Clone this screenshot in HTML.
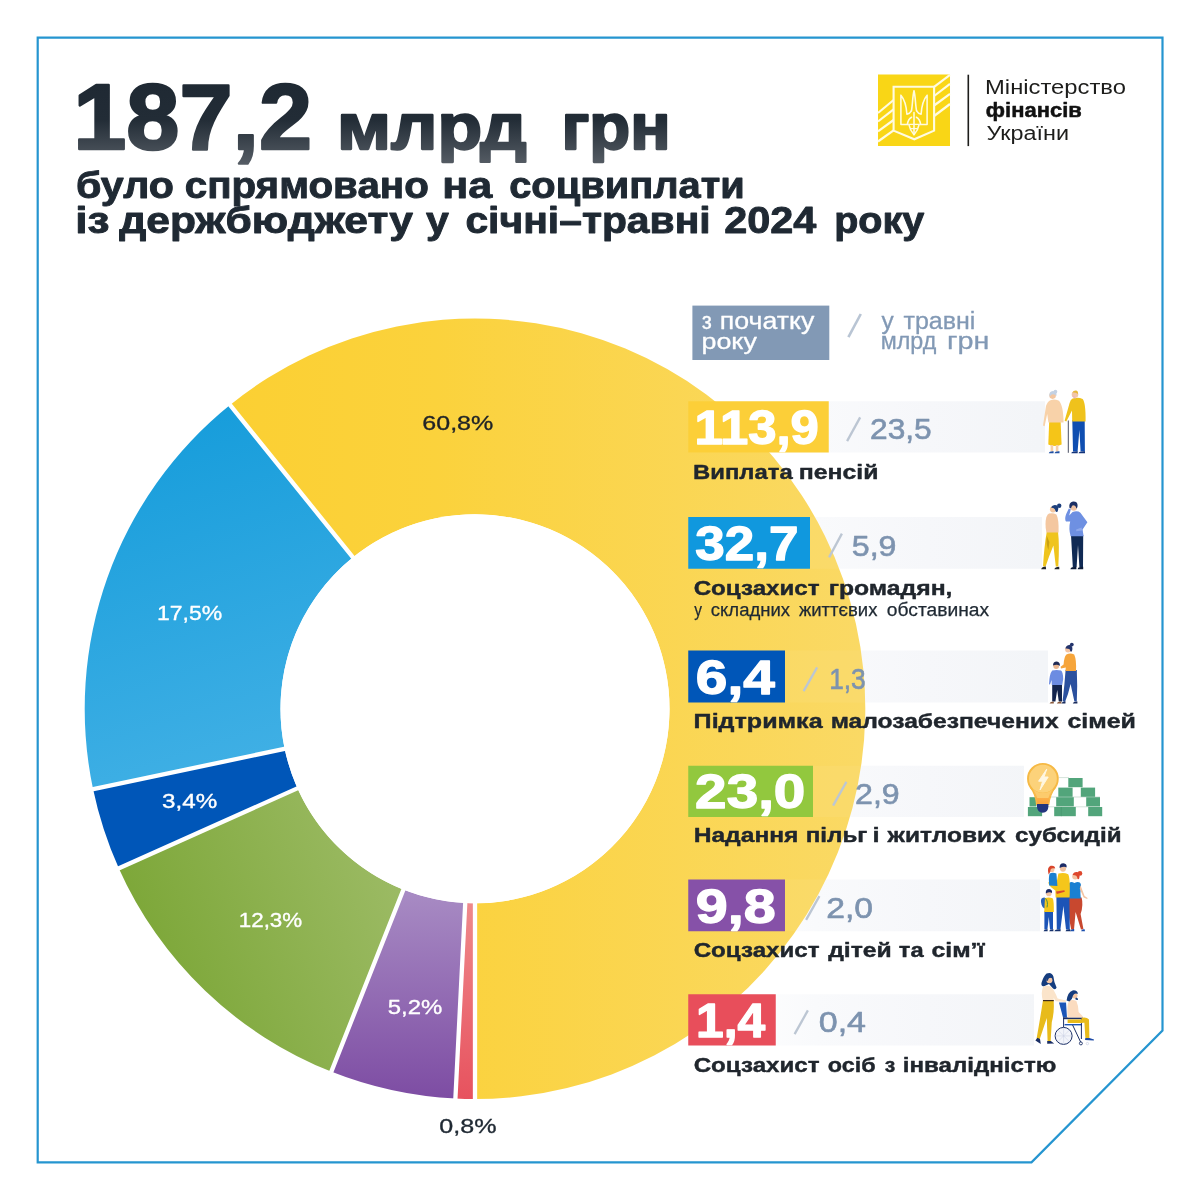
<!DOCTYPE html>
<html lang="uk"><head><meta charset="utf-8"><title>187,2 млрд грн</title>
<style>
html,body{margin:0;padding:0;background:#fff;}
body{width:1200px;height:1200px;overflow:hidden;}
svg{display:block;font-family:"Liberation Sans",sans-serif;}
</style></head><body>
<svg width="1200" height="1200" viewBox="0 0 1200 1200">
<defs>
<linearGradient id="gT" x1="0" y1="82" x2="0" y2="165" gradientUnits="userSpaceOnUse"><stop offset="0" stop-color="#1f2933"/><stop offset="0.45" stop-color="#222c36"/><stop offset="1" stop-color="#565d65"/></linearGradient>
<linearGradient id="gY" x1="84" y1="0" x2="866" y2="0" gradientUnits="userSpaceOnUse"><stop offset="0" stop-color="#fbce2c"/><stop offset="0.45" stop-color="#fbd23c"/><stop offset="1" stop-color="#fad965"/></linearGradient>
<linearGradient id="gLB" x1="180" y1="420" x2="300" y2="800" gradientUnits="userSpaceOnUse"><stop offset="0" stop-color="#179ddb"/><stop offset="1" stop-color="#45b2e6"/></linearGradient>
<linearGradient id="gG" x1="150" y1="1000" x2="400" y2="900" gradientUnits="userSpaceOnUse"><stop offset="0" stop-color="#7ba636"/><stop offset="1" stop-color="#9bba63"/></linearGradient>
<linearGradient id="gP" x1="0" y1="895" x2="0" y2="1100" gradientUnits="userSpaceOnUse"><stop offset="0" stop-color="#a78ac3"/><stop offset="1" stop-color="#7d4ca3"/></linearGradient>
<linearGradient id="gR" x1="0" y1="900" x2="0" y2="1100" gradientUnits="userSpaceOnUse"><stop offset="0" stop-color="#ef8a8c"/><stop offset="1" stop-color="#e7525e"/></linearGradient>
<linearGradient id="gBar" x1="720" y1="0" x2="1040" y2="0" gradientUnits="userSpaceOnUse"><stop offset="0" stop-color="#ffffff"/><stop offset="0.3" stop-color="#f9fafc"/><stop offset="0.65" stop-color="#f6f7fa"/><stop offset="1" stop-color="#f3f5f8"/></linearGradient>
</defs>
<rect width="1200" height="1200" fill="#ffffff"/>

<path d="M37.7 37.7 H1162.5 V1030.5 L1031.5 1162.3 H37.7 Z" fill="none" stroke="#2595d0" stroke-width="2.2"/>
<rect x="688.25" y="401.25" width="356.75" height="51.25" fill="url(#gBar)"/>
<rect x="688.25" y="517.00" width="353.75" height="51.75" fill="url(#gBar)"/>
<rect x="688.25" y="650.50" width="360.75" height="52.00" fill="url(#gBar)"/>
<rect x="688.25" y="765.75" width="337.75" height="51.25" fill="url(#gBar)"/>
<rect x="688.25" y="879.50" width="353.75" height="51.75" fill="url(#gBar)"/>
<rect x="688.25" y="994.25" width="347.75" height="51.25" fill="url(#gBar)"/>
<g>
<path d="M475.34 1099.10 A390.3 390.3 0 0 1 455.05 1098.59 L465.06 903.05 A194.5 194.5 0 0 0 475.17 903.30 Z" fill="url(#gR)"/>
<path d="M455.73 1098.62 A390.3 390.3 0 0 1 331.00 1071.57 L403.24 889.58 A194.5 194.5 0 0 0 465.40 903.06 Z" fill="url(#gP)"/>
<path d="M331.64 1071.82 A390.3 390.3 0 0 1 118.64 867.98 L297.41 788.13 A194.5 194.5 0 0 0 403.56 889.70 Z" fill="url(#gG)"/>
<path d="M118.92 868.61 A390.3 390.3 0 0 1 92.99 788.81 L284.63 748.67 A194.5 194.5 0 0 0 297.55 788.44 Z" fill="#0056b8"/>
<path d="M93.13 789.48 A390.3 390.3 0 0 1 230.28 404.75 L353.05 557.28 A194.5 194.5 0 0 0 284.70 749.01 Z" fill="url(#gLB)"/>
<path d="M229.75 405.18 A390.3 390.3 0 1 1 474.66 1099.10 L474.83 903.30 A194.5 194.5 0 1 0 352.78 557.50 Z" fill="url(#gY)"/>
</g>
<path d="M475.00 902.30 L475.00 1100.10 M465.28 902.06 L455.34 1099.61 M403.77 888.71 L330.95 1072.62 M298.39 787.87 L117.86 868.70 M285.64 748.63 L92.08 789.35 M353.54 558.17 L229.38 404.19 " stroke="#ffffff" stroke-width="4.3" fill="none"/>
<circle cx="475" cy="708.8" r="194.5" fill="#ffffff"/>
<text x="422.30" y="429.82" font-size="20.84" font-weight="normal" fill="#1f2327" stroke="#1f2327" stroke-width="0.35" stroke-linejoin="round" textLength="70.97" lengthAdjust="spacingAndGlyphs">60,8%</text>
<text x="157.04" y="619.83" font-size="20.84" font-weight="normal" fill="#ffffff" stroke="#ffffff" stroke-width="0.35" stroke-linejoin="round" textLength="65.17" lengthAdjust="spacingAndGlyphs">17,5%</text>
<text x="162.12" y="808.12" font-size="20.12" font-weight="normal" fill="#ffffff" stroke="#ffffff" stroke-width="0.35" stroke-linejoin="round" textLength="55.13" lengthAdjust="spacingAndGlyphs">3,4%</text>
<text x="238.78" y="927.12" font-size="20.41" font-weight="normal" fill="#ffffff" stroke="#ffffff" stroke-width="0.35" stroke-linejoin="round" textLength="63.41" lengthAdjust="spacingAndGlyphs">12,3%</text>
<text x="387.73" y="1013.83" font-size="20.84" font-weight="normal" fill="#ffffff" stroke="#ffffff" stroke-width="0.35" stroke-linejoin="round" textLength="54.51" lengthAdjust="spacingAndGlyphs">5,2%</text>
<text x="439.39" y="1133.12" font-size="20.84" font-weight="normal" fill="#1f2933" stroke="#1f2933" stroke-width="0.35" stroke-linejoin="round" textLength="57.18" lengthAdjust="spacingAndGlyphs">0,8%</text>
<clipPath id="cD"><circle cx="475" cy="708.8" r="390.3"/></clipPath>
<g clip-path="url(#cD)" opacity="0.05">
<rect x="688.25" y="401.25" width="353.75" height="51.25" fill="#ffffff"/>
<rect x="688.25" y="517.00" width="353.75" height="51.75" fill="#ffffff"/>
<rect x="688.25" y="650.50" width="353.75" height="52.00" fill="#ffffff"/>
<rect x="688.25" y="765.75" width="353.75" height="51.25" fill="#ffffff"/>
<rect x="688.25" y="879.50" width="353.75" height="51.75" fill="#ffffff"/>
<rect x="688.25" y="994.25" width="353.75" height="51.25" fill="#ffffff"/>
</g>
<text x="73.23" y="149.30" font-size="93.30" font-weight="bold" fill="url(#gT)" stroke="url(#gT)" stroke-width="2.40" stroke-linejoin="round" textLength="238.95" lengthAdjust="spacingAndGlyphs">187,2</text>
<text x="336.99" y="149.25" font-size="65.32" font-weight="bold" fill="url(#gT)" stroke="url(#gT)" stroke-width="2.30" stroke-linejoin="round" textLength="189.58" lengthAdjust="spacingAndGlyphs">млрд</text>
<text x="561.47" y="149.25" font-size="65.32" font-weight="bold" fill="url(#gT)" stroke="url(#gT)" stroke-width="2.30" stroke-linejoin="round" textLength="109.21" lengthAdjust="spacingAndGlyphs">грн</text>
<text x="75.91" y="197.85" font-size="36.33" font-weight="bold" fill="#1f2933" stroke="#1f2933" stroke-width="0.90" stroke-linejoin="round" textLength="97.98" lengthAdjust="spacingAndGlyphs">було</text>
<text x="184.69" y="197.85" font-size="36.33" font-weight="bold" fill="#1f2933" stroke="#1f2933" stroke-width="0.90" stroke-linejoin="round" textLength="244.18" lengthAdjust="spacingAndGlyphs">спрямовано</text>
<text x="442.26" y="197.85" font-size="36.33" font-weight="bold" fill="#1f2933" stroke="#1f2933" stroke-width="0.90" stroke-linejoin="round" textLength="50.02" lengthAdjust="spacingAndGlyphs">на</text>
<text x="509.20" y="197.85" font-size="36.33" font-weight="bold" fill="#1f2933" stroke="#1f2933" stroke-width="0.90" stroke-linejoin="round" textLength="235.55" lengthAdjust="spacingAndGlyphs">соцвиплати</text>
<text x="75.18" y="232.85" font-size="36.33" font-weight="bold" fill="#1f2933" stroke="#1f2933" stroke-width="0.90" stroke-linejoin="round" textLength="34.38" lengthAdjust="spacingAndGlyphs">із</text>
<text x="119.20" y="232.85" font-size="36.33" font-weight="bold" fill="#1f2933" stroke="#1f2933" stroke-width="0.90" stroke-linejoin="round" textLength="293.83" lengthAdjust="spacingAndGlyphs">держбюджету</text>
<text x="425.95" y="232.85" font-size="36.33" font-weight="bold" fill="#1f2933" stroke="#1f2933" stroke-width="0.90" stroke-linejoin="round" textLength="22.84" lengthAdjust="spacingAndGlyphs">у</text>
<text x="465.42" y="232.85" font-size="36.33" font-weight="bold" fill="#1f2933" stroke="#1f2933" stroke-width="0.90" stroke-linejoin="round" textLength="245.29" lengthAdjust="spacingAndGlyphs">січні–травні</text>
<text x="724.16" y="232.85" font-size="36.33" font-weight="bold" fill="#1f2933" stroke="#1f2933" stroke-width="0.90" stroke-linejoin="round" textLength="92.13" lengthAdjust="spacingAndGlyphs">2024</text>
<text x="834.23" y="232.85" font-size="36.33" font-weight="bold" fill="#1f2933" stroke="#1f2933" stroke-width="0.90" stroke-linejoin="round" textLength="90.07" lengthAdjust="spacingAndGlyphs">року</text>
<g id="logo">
<rect x="878" y="74.5" width="72" height="71.5" fill="#f9d616"/>
<g stroke="#fffbe0" stroke-width="2.2" fill="none" stroke-linecap="butt">
<path d="M878 113.0 L893.6 100.0"/>
<path d="M878 121.5 L893.6 109.3"/>
<path d="M878 131.3 L893.6 120.0"/>
<path d="M878 141.5 L893.6 130.3"/>
<path d="M934.1 86.8 L950 74.8"/>
<path d="M934.1 96.0 L950 83.8"/>
<path d="M934.1 105.5 L950 93.9"/>
<path d="M934.1 116.0 L950 104.0"/>
<path d="M893.6 86.8 H934.1 V130.6 L914.3 139.3 L893.6 130.6 Z" stroke-width="2.1" fill="#f9d616"/>
</g>
<g stroke="#fffbe0" stroke-width="1.55" fill="none" stroke-linejoin="round" stroke-linecap="round">
<path d="M900.9 95.2 V124.4 H907.4 M900.9 95.2 C904.6 99.5 906.4 106 906.9 114.2 C908.6 113.8 910.4 112.6 911.4 110.8"/>
<path d="M927.1 95.2 V124.4 H920.6 M927.1 95.2 C923.4 99.5 921.6 106 921.1 114.2 C919.4 113.8 917.6 112.6 916.6 110.8"/>
<path d="M914 90.8 C912.4 97 912.6 106 911.4 110.8 M914 90.8 C915.6 97 915.4 106 916.6 110.8 M914 112.5 V134.4"/>
<path d="M907.4 124.4 C907.8 121 909.4 118.4 911.6 117.2 M920.6 124.4 C920.2 121 918.6 118.4 916.4 117.2"/>
<path d="M908.8 124.4 C909.8 129 911.8 132.4 914 134.8 C916.2 132.4 918.2 129 919.2 124.4"/>
<path d="M909.6 124.4 H918.4 M911 128.6 H917" stroke-width="1.2"/>
</g>
<rect x="967.5" y="74.7" width="1.6" height="71.4" fill="#1d1d1b"/>
<text x="985.04" y="93.80" font-size="19.77" font-weight="normal" fill="#1d1d1b" textLength="140.92" lengthAdjust="spacingAndGlyphs">Міністерство</text>
<text x="985.86" y="116.55" font-size="20.71" font-weight="bold" fill="#111111" stroke="#111111" stroke-width="0.50" stroke-linejoin="round" textLength="95.89" lengthAdjust="spacingAndGlyphs">фінансів</text>
<text x="986.53" y="140.00" font-size="19.77" font-weight="normal" fill="#1d1d1b" textLength="82.54" lengthAdjust="spacingAndGlyphs">України</text>
</g>
<rect x="692.4" y="305.6" width="136.9" height="54.4" fill="#8299b5"/>
<text x="701.81" y="329.25" font-size="23.34" font-weight="normal" fill="#ffffff" stroke="#ffffff" stroke-width="0.30" stroke-linejoin="round" textLength="10.10" lengthAdjust="spacingAndGlyphs">з</text>
<text x="719.73" y="329.25" font-size="23.34" font-weight="normal" fill="#ffffff" stroke="#ffffff" stroke-width="0.30" stroke-linejoin="round" textLength="94.62" lengthAdjust="spacingAndGlyphs">початку</text>
<text x="701.47" y="348.75" font-size="22.67" font-weight="normal" fill="#ffffff" stroke="#ffffff" stroke-width="0.30" stroke-linejoin="round" textLength="55.38" lengthAdjust="spacingAndGlyphs">року</text>
<path d="M848.4 337.2 L860.8 314" stroke="#b9c5d4" stroke-width="2.6" stroke-linecap="butt"/>
<text x="881.40" y="329.25" font-size="23.34" font-weight="normal" fill="#8299b5" stroke="#8299b5" stroke-width="0.30" stroke-linejoin="round" textLength="12.20" lengthAdjust="spacingAndGlyphs">у</text>
<text x="903.51" y="329.25" font-size="23.34" font-weight="normal" fill="#8299b5" stroke="#8299b5" stroke-width="0.30" stroke-linejoin="round" textLength="71.89" lengthAdjust="spacingAndGlyphs">травні</text>
<text x="880.70" y="348.75" font-size="23.34" font-weight="normal" fill="#8299b5" stroke="#8299b5" stroke-width="0.30" stroke-linejoin="round" textLength="55.53" lengthAdjust="spacingAndGlyphs">млрд</text>
<text x="947.11" y="348.75" font-size="23.34" font-weight="normal" fill="#8299b5" stroke="#8299b5" stroke-width="0.30" stroke-linejoin="round" textLength="42.29" lengthAdjust="spacingAndGlyphs">грн</text>
<rect x="688.25" y="401.25" width="140.50" height="51.25" fill="#fccf38"/>
<text x="694.47" y="443.85" font-size="47.93" font-weight="bold" fill="#ffffff" stroke="#ffffff" stroke-width="1.30" stroke-linejoin="round" textLength="124.39" lengthAdjust="spacingAndGlyphs">113,9</text>
<path d="M847.10 441.10 L860.15 417.40" stroke="#bcc6d3" stroke-width="2.3"/>
<text x="870.06" y="439.40" font-size="29.01" font-weight="normal" fill="#7d93af" stroke="#7d93af" stroke-width="0.60" stroke-linejoin="round" textLength="61.67" lengthAdjust="spacingAndGlyphs">23,5</text>
<text x="693.11" y="479.05" font-size="20.48" font-weight="bold" fill="#20262d" stroke="#20262d" stroke-width="0.40" stroke-linejoin="round" textLength="99.54" lengthAdjust="spacingAndGlyphs">Виплата</text>
<text x="798.65" y="479.05" font-size="20.48" font-weight="bold" fill="#20262d" stroke="#20262d" stroke-width="0.40" stroke-linejoin="round" textLength="79.84" lengthAdjust="spacingAndGlyphs">пенсій</text>
<rect x="688.25" y="517.00" width="121.75" height="51.75" fill="#1098de"/>
<text x="695.32" y="560.10" font-size="47.93" font-weight="bold" fill="#ffffff" stroke="#ffffff" stroke-width="1.30" stroke-linejoin="round" textLength="103.18" lengthAdjust="spacingAndGlyphs">32,7</text>
<path d="M829.10 557.35 L841.90 533.65" stroke="#bcc6d3" stroke-width="2.3"/>
<text x="851.79" y="555.65" font-size="29.01" font-weight="normal" fill="#7d93af" stroke="#7d93af" stroke-width="0.60" stroke-linejoin="round" textLength="44.71" lengthAdjust="spacingAndGlyphs">5,9</text>
<text x="693.65" y="595.30" font-size="20.48" font-weight="bold" fill="#20262d" stroke="#20262d" stroke-width="0.40" stroke-linejoin="round" textLength="125.96" lengthAdjust="spacingAndGlyphs">Соцзахист</text>
<text x="828.65" y="595.30" font-size="20.48" font-weight="bold" fill="#20262d" stroke="#20262d" stroke-width="0.40" stroke-linejoin="round" textLength="123.81" lengthAdjust="spacingAndGlyphs">громадян,</text>
<rect x="688.25" y="650.50" width="96.75" height="52.00" fill="#0056b8"/>
<text x="695.88" y="693.85" font-size="47.93" font-weight="bold" fill="#ffffff" stroke="#ffffff" stroke-width="1.30" stroke-linejoin="round" textLength="78.86" lengthAdjust="spacingAndGlyphs">6,4</text>
<path d="M803.60 691.10 L817.10 667.40" stroke="#bcc6d3" stroke-width="2.3"/>
<text x="829.15" y="689.40" font-size="29.01" font-weight="normal" fill="#7d93af" stroke="#7d93af" stroke-width="0.60" stroke-linejoin="round" textLength="36.61" lengthAdjust="spacingAndGlyphs">1,3</text>
<text x="693.63" y="728.10" font-size="20.48" font-weight="bold" fill="#20262d" stroke="#20262d" stroke-width="0.40" stroke-linejoin="round" textLength="129.01" lengthAdjust="spacingAndGlyphs">Підтримка</text>
<text x="830.66" y="728.10" font-size="20.48" font-weight="bold" fill="#20262d" stroke="#20262d" stroke-width="0.40" stroke-linejoin="round" textLength="227.98" lengthAdjust="spacingAndGlyphs">малозабезпечених</text>
<text x="1067.42" y="728.10" font-size="20.48" font-weight="bold" fill="#20262d" stroke="#20262d" stroke-width="0.40" stroke-linejoin="round" textLength="68.58" lengthAdjust="spacingAndGlyphs">сімей</text>
<rect x="688.25" y="765.75" width="124.75" height="51.25" fill="#92c83e"/>
<text x="695.13" y="808.35" font-size="47.93" font-weight="bold" fill="#ffffff" stroke="#ffffff" stroke-width="1.30" stroke-linejoin="round" textLength="110.27" lengthAdjust="spacingAndGlyphs">23,0</text>
<path d="M833.10 805.60 L846.40 781.90" stroke="#bcc6d3" stroke-width="2.3"/>
<text x="855.04" y="803.90" font-size="29.01" font-weight="normal" fill="#7d93af" stroke="#7d93af" stroke-width="0.60" stroke-linejoin="round" textLength="44.71" lengthAdjust="spacingAndGlyphs">2,9</text>
<text x="693.66" y="842.40" font-size="20.48" font-weight="bold" fill="#20262d" stroke="#20262d" stroke-width="0.40" stroke-linejoin="round" textLength="104.81" lengthAdjust="spacingAndGlyphs">Надання</text>
<text x="805.69" y="842.40" font-size="20.48" font-weight="bold" fill="#20262d" stroke="#20262d" stroke-width="0.40" stroke-linejoin="round" textLength="61.74" lengthAdjust="spacingAndGlyphs">пільг</text>
<text x="872.40" y="842.40" font-size="20.48" font-weight="bold" fill="#20262d" stroke="#20262d" stroke-width="0.40" stroke-linejoin="round" textLength="7.11" lengthAdjust="spacingAndGlyphs">і</text>
<text x="887.58" y="842.40" font-size="20.48" font-weight="bold" fill="#20262d" stroke="#20262d" stroke-width="0.40" stroke-linejoin="round" textLength="118.06" lengthAdjust="spacingAndGlyphs">житлових</text>
<text x="1015.05" y="842.40" font-size="20.48" font-weight="bold" fill="#20262d" stroke="#20262d" stroke-width="0.40" stroke-linejoin="round" textLength="106.59" lengthAdjust="spacingAndGlyphs">субсидій</text>
<rect x="688.25" y="879.50" width="96.75" height="51.75" fill="#8651a8"/>
<text x="695.85" y="922.60" font-size="47.93" font-weight="bold" fill="#ffffff" stroke="#ffffff" stroke-width="1.30" stroke-linejoin="round" textLength="79.93" lengthAdjust="spacingAndGlyphs">9,8</text>
<path d="M806.10 919.85 L819.40 896.15" stroke="#bcc6d3" stroke-width="2.3"/>
<text x="826.22" y="918.15" font-size="29.01" font-weight="normal" fill="#7d93af" stroke="#7d93af" stroke-width="0.60" stroke-linejoin="round" textLength="46.82" lengthAdjust="spacingAndGlyphs">2,0</text>
<text x="693.65" y="957.30" font-size="20.48" font-weight="bold" fill="#20262d" stroke="#20262d" stroke-width="0.40" stroke-linejoin="round" textLength="125.96" lengthAdjust="spacingAndGlyphs">Соцзахист</text>
<text x="828.20" y="957.30" font-size="20.48" font-weight="bold" fill="#20262d" stroke="#20262d" stroke-width="0.40" stroke-linejoin="round" textLength="63.58" lengthAdjust="spacingAndGlyphs">дітей</text>
<text x="898.83" y="957.30" font-size="20.48" font-weight="bold" fill="#20262d" stroke="#20262d" stroke-width="0.40" stroke-linejoin="round" textLength="24.82" lengthAdjust="spacingAndGlyphs">та</text>
<text x="931.42" y="957.30" font-size="20.48" font-weight="bold" fill="#20262d" stroke="#20262d" stroke-width="0.40" stroke-linejoin="round" textLength="53.10" lengthAdjust="spacingAndGlyphs">сім’ї</text>
<rect x="688.25" y="994.25" width="87.50" height="51.25" fill="#e84e5b"/>
<text x="696.04" y="1036.85" font-size="47.93" font-weight="bold" fill="#ffffff" stroke="#ffffff" stroke-width="1.30" stroke-linejoin="round" textLength="69.25" lengthAdjust="spacingAndGlyphs">1,4</text>
<path d="M794.60 1034.10 L807.90 1010.40" stroke="#bcc6d3" stroke-width="2.3"/>
<text x="818.74" y="1032.40" font-size="29.01" font-weight="normal" fill="#7d93af" stroke="#7d93af" stroke-width="0.60" stroke-linejoin="round" textLength="47.31" lengthAdjust="spacingAndGlyphs">0,4</text>
<text x="693.65" y="1071.80" font-size="20.48" font-weight="bold" fill="#20262d" stroke="#20262d" stroke-width="0.40" stroke-linejoin="round" textLength="125.96" lengthAdjust="spacingAndGlyphs">Соцзахист</text>
<text x="827.87" y="1071.80" font-size="20.48" font-weight="bold" fill="#20262d" stroke="#20262d" stroke-width="0.40" stroke-linejoin="round" textLength="47.85" lengthAdjust="spacingAndGlyphs">осіб</text>
<text x="884.87" y="1071.80" font-size="20.48" font-weight="bold" fill="#20262d" stroke="#20262d" stroke-width="0.40" stroke-linejoin="round" textLength="10.53" lengthAdjust="spacingAndGlyphs">з</text>
<text x="902.69" y="1071.80" font-size="20.48" font-weight="bold" fill="#20262d" stroke="#20262d" stroke-width="0.40" stroke-linejoin="round" textLength="153.73" lengthAdjust="spacingAndGlyphs">інвалідністю</text>
<text x="694.33" y="616.48" font-size="17.60" font-weight="normal" fill="#1f2933" stroke="#1f2933" stroke-width="0.25" stroke-linejoin="round" textLength="7.75" lengthAdjust="spacingAndGlyphs">у</text>
<text x="710.75" y="616.48" font-size="17.60" font-weight="normal" fill="#1f2933" stroke="#1f2933" stroke-width="0.25" stroke-linejoin="round" textLength="79.33" lengthAdjust="spacingAndGlyphs">складних</text>
<text x="798.92" y="616.48" font-size="17.60" font-weight="normal" fill="#1f2933" stroke="#1f2933" stroke-width="0.25" stroke-linejoin="round" textLength="78.55" lengthAdjust="spacingAndGlyphs">життєвих</text>
<text x="886.82" y="616.48" font-size="17.60" font-weight="normal" fill="#1f2933" stroke="#1f2933" stroke-width="0.25" stroke-linejoin="round" textLength="102.35" lengthAdjust="spacingAndGlyphs">обставинах</text>
<g id="il1">
<rect x="1045" y="388" width="45" height="67" fill="#fff"/>
<path d="M1049.2 421 L1060.6 421 L1061.6 444.5 Q1055 447.5 1048.3 444.5 Z" fill="#f5c518"/>
<rect x="1050.6" y="445" width="2.6" height="6.5" fill="#f6cfa8"/><rect x="1055.8" y="445" width="2.6" height="6.5" fill="#f6cfa8"/>
<path d="M1048.8 453.2 q0.3-2.2 4.8-2 v2 z M1054.5 453.2 q0.3-2.2 5-2 v2 z" fill="#1f4fa3"/>
<path d="M1050.5 400.3 Q1054 398.6 1058.5 400.6 Q1063.2 404 1063.6 422.6 L1048.4 422.6 L1047.2 414 L1044.6 426.2 L1043 425.6 L1046 406 Q1047.5 401.5 1050.5 400.3 Z" fill="#f8d2a9"/>
<circle cx="1052.6" cy="395.6" r="3.3" fill="#f3c6a0"/>
<path d="M1049.6 396.5 Q1048.6 391.3 1053 391 Q1057.2 391.4 1056.4 396 Q1054.5 393.6 1051.8 394.6 Z" fill="#c3d1e3"/><circle cx="1055.4" cy="391.7" r="1.9" fill="#c3d1e3"/>
<path d="M1072.3 420 L1084.7 420 L1084.9 451.5 L1080.6 451.5 L1079.4 430 L1077.6 451.5 L1073 451.5 Z" fill="#0f4eb1"/>
<path d="M1071.3 453.2 q0.2-2 6.4-1.9 v1.9 z M1078.6 453.2 q0.2-2 6.4-1.9 v1.9 z" fill="#13337a"/>
<path d="M1068.3 420.5 V452.8" stroke="#4a4f63" stroke-width="1"/>
<path d="M1072.6 398.6 Q1078 396.8 1082.6 399 Q1085.8 402.5 1085.6 421.4 L1072.2 421.4 L1072 410.5 L1066.3 421.6 L1064.6 420.7 L1069.6 403 Q1070.6 399.6 1072.6 398.6 Z" fill="#efc21c"/>
<circle cx="1075" cy="394.6" r="3.3" fill="#f1c5a8"/>
<path d="M1072.4 392.6 Q1073.4 390.2 1076.4 390.6 Q1078.6 391.6 1078 394 Q1075.6 392.4 1072.4 392.6 Z" fill="#e8b73a"/><path d="M1072.6 395.4 q0.4 3.4 3.4 3 q-0.6 -2 -3.4 -3z" fill="#e9b5c0"/>
</g>
<g id="il2">
<rect x="1042" y="500" width="49" height="72" fill="#fff"/>
<path d="M1046.8 531.5 L1058 531.5 Q1059.6 545 1058.3 566.5 L1055.8 566.5 L1053.4 545.5 Q1049 556 1045.6 566.6 L1043 566.2 Q1044.2 546 1046.8 531.5 Z" fill="#efc41d"/>
<path d="M1046.8 536 q-0.8 8 1.6 14 l1-8z" fill="#c9a013"/>
<path d="M1041.2 569.3 q0.4-2.6 4.6-2.8 l0.3 2.8 z M1054.4 569.3 q0.4-2.4 4.8-2.6 l0.2 2.6 z" fill="#22252e"/>
<path d="M1049 513.6 Q1053 512.6 1056.4 514.6 Q1059 519 1058.6 532.6 L1046.4 532.6 Q1044.6 524 1046.4 517 Q1047.4 514.4 1049 513.6 Z" fill="#f4c7a0"/>
<circle cx="1053" cy="509.3" r="3.1" fill="#f4c7a0"/>
<path d="M1051 507.6 Q1052.6 504 1056.6 505.2 Q1059.4 507 1057.6 511.4 Q1056.4 512.6 1055.6 511.2 Q1055.4 508 1051 507.6 Z" fill="#1d3f7c"/><circle cx="1059.2" cy="505.8" r="2.2" fill="#1d3f7c"/>
<path d="M1071 535 L1083.2 535 L1083 567 L1079.4 567 L1078 545 L1076.6 567 L1072.8 567 Z" fill="#102a54"/>
<path d="M1070.4 569.2 q0.4-2.4 6-2.4 v2.4 z M1077.6 569.2 q0.4-2.4 5.6-2.4 v2.4 z" fill="#0c1c3a"/>
<path d="M1072.6 512 Q1077.6 510.4 1080.4 512.8 L1087.4 522.2 L1082.6 529.4 L1083.6 536.2 L1070.6 536.2 Q1068.4 528 1070.2 521.4 L1066 521.6 Q1064.2 519 1066.2 514 L1068.8 508.4 L1070.8 509.2 L1069.2 515.4 Z" fill="#6e90e2"/>
<path d="M1081.6 527.6 L1076.2 529.6 L1076.2 531.2 L1082.2 530.4 Z" fill="#8fa9ec"/>
<circle cx="1073.8" cy="507.6" r="3.2" fill="#f1c3a2"/>
<path d="M1069.4 507.8 Q1068.6 502.4 1073 501.6 Q1077.8 501.4 1077.6 506 Q1077.4 508.4 1076.2 508.6 Q1076.4 505.4 1072.8 505.2 Q1071.2 506.4 1071 508.6 Z" fill="#1c2f63"/>
</g>
<g id="il3">
<rect x="1048" y="640" width="36" height="65" fill="#fff"/>
<path d="M1065.6 670 L1076.8 670 Q1077.6 686 1076.8 701.6 L1074.4 701.6 L1070.6 684 Q1068.4 694 1065 702 L1062.6 701.2 Q1064.6 684 1065.6 670 Z" fill="#2b509e"/>
<path d="M1061.4 703.6 q0.6-2.4 4.2-2.2 l-0.2 2.2 z M1072.8 703.6 q0.6-2.2 4.6-2 v2 z" fill="#1b2c5c"/>
<path d="M1066.4 654.4 Q1070.6 652.6 1074.2 654.6 Q1076.6 660 1076 671 L1065.4 671 L1065.8 667.6 L1061 668.4 L1060.6 666.8 L1063.6 664.4 Q1064 657 1066.4 654.4 Z" fill="#f6a53b"/>
<circle cx="1068" cy="649.6" r="2.9" fill="#f3c4a3"/>
<path d="M1065.4 648.6 Q1066.2 644.6 1070.2 645 Q1073.4 646.4 1072 651 Q1071 652.4 1070.2 651 Q1070.2 648.4 1065.4 648.6 Z" fill="#24346c"/><circle cx="1071.8" cy="644.6" r="1.9" fill="#24346c"/>
<path d="M1052.2 684 L1062 684 L1062 701.4 L1058.8 701.4 L1057.2 690 L1055.4 701.4 L1052.2 701.4 Z" fill="#13244d"/>
<path d="M1049.6 703.4 q0.6-2 4.2-2 v2 z M1056.8 703.4 q0.6-2 4.6-2 v2 z" fill="#8a5a3c"/>
<path d="M1052.2 670.6 Q1056.6 669.4 1061 670.6 Q1063 672 1063.2 679 L1062.2 685 L1051.8 685 L1051.6 680 L1050 684.6 L1049 684.2 Q1049.4 674 1052.2 670.6 Z" fill="#6c8ce2"/>
<circle cx="1056.2" cy="666" r="2.9" fill="#e9b58f"/>
<path d="M1053 665.4 Q1053 661.4 1056.8 661.4 Q1060.4 662 1059.8 666 Q1057.6 663.8 1053 665.4 Z" fill="#1f2a55"/>
</g>
<g id="il4">
<rect x="1024" y="760" width="82" height="58" fill="#fff"/>
<rect x="1058" y="778" width="40" height="38" fill="#fff"/>
<path d="M1058.5 777.6 H1069 M1050 797 H1100 M1048 806.8 H1100" stroke="#b7cfc0" stroke-width="0.6"/>
<rect x="1068.3" y="778.0" width="14.3" height="9.2" fill="#52a57b"/>
<rect x="1058.3" y="787.6" width="14.3" height="9.2" fill="#52a57b"/>
<rect x="1080.8" y="787.6" width="14.3" height="9.2" fill="#52a57b"/>
<rect x="1029.5" y="797.2" width="7.0" height="9.3" fill="#52a57b"/>
<rect x="1056.2" y="797.2" width="17.6" height="9.2" fill="#52a57b"/>
<rect x="1086.2" y="797.2" width="13.8" height="9.2" fill="#52a57b"/>
<rect x="1027.9" y="807.0" width="14.2" height="9.2" fill="#52a57b"/>
<rect x="1054.2" y="807.0" width="21.6" height="9.2" fill="#52a57b"/>
<rect x="1088.2" y="807.0" width="14.0" height="9.2" fill="#52a57b"/>
<path d="M1061.3 807 v9.2" stroke="#46956e" stroke-width="0.7"/>
<defs><linearGradient id="gNeck" x1="0" y1="790" x2="0" y2="805" gradientUnits="userSpaceOnUse"><stop offset="0" stop-color="#fcc35e"/><stop offset="1" stop-color="#fb9f37"/></linearGradient></defs>
<path d="M1030.6 787.6 Q1035.6 794 1036.6 804.4 L1048.8 804.4 Q1050 794 1055.2 787.6 Z" fill="url(#gNeck)" stroke="#f6b944" stroke-width="1.2" stroke-linejoin="round"/>
<path d="M1037 804 H1048.4 V806.6 Q1048.2 812.6 1042.7 812.8 Q1037.2 812.6 1037 806.6 Z" fill="#23357e"/>
<circle cx="1042.9" cy="778.8" r="14.9" fill="#fcd27a" stroke="#f6b944" stroke-width="1.9"/>
<path d="M1032.6 789 Q1036.2 793.6 1037.2 798 L1048.4 798 Q1049.4 793.6 1053.2 789 Q1043 797 1032.6 789 Z" fill="#fccb6c"/>
<path d="M1046.8 769 L1038.6 781.2 L1042.6 781.2 L1040 790 L1048.2 777 L1044 777 Z" fill="#fff7e2" stroke="#fff7e2" stroke-width="1" stroke-linejoin="round"/>
</g>
<g id="il5">
<rect x="1040" y="862" width="50" height="70" fill="#fff"/>
<path d="M1068 897.4 L1081.6 897.4 Q1083.6 905 1080.6 914 L1083.4 929 L1081 929.4 L1075.6 912 L1074 929.4 L1071.2 929.4 Q1067 910 1068 897.4 Z" fill="#c8482f"/>
<path d="M1070.6 931.2 q0.2-2.4 3.6-2.2 v2.2 z M1081.2 931.2 q0-2.4 3.4-2 l0.4 2 z" fill="#1b4fae"/>
<path d="M1069.6 882.4 Q1071.6 881.2 1074.4 883 Q1077.6 881.2 1079.8 882.4 Q1081.6 884 1080.8 888 Q1080 893 1080.8 898.4 L1068.6 898.4 Q1069.6 892 1068.6 887 Q1068.2 883.6 1069.6 882.4 Z" fill="#1a80d2"/>
<path d="M1080.4 885 L1084.6 896 L1087.6 898 L1087.2 899 L1083.6 897.6 L1079.8 889 Z" fill="#f3c4a3"/>
<circle cx="1075.2" cy="876.6" r="3" fill="#f3c4a3"/>
<path d="M1072.6 875 Q1073.6 871.4 1077.4 872 Q1080.6 873.4 1079.2 878.6 Q1078.2 880.2 1077.4 878.4 Q1077.4 875 1072.6 875 Z" fill="#de472d"/><circle cx="1080" cy="873.4" r="2.3" fill="#de472d"/>
<path d="M1056.4 896.6 L1069.4 896.6 L1069.8 929.4 L1066 929.4 L1063.4 906 L1060.4 929.4 L1056.8 929.4 Z" fill="#1c54b7"/>
<path d="M1054.4 931.2 q0.4-2.2 6.2-2 v2 z M1065.6 931.2 q0.2-2.2 4.6-2 l0.6 2 z" fill="#14306c"/>
<path d="M1058.4 873.6 Q1063.6 872 1068.2 874.2 Q1070.4 878 1069.6 897.6 L1055.6 897.6 L1055.4 890.4 Q1049.4 887 1048.2 882.6 L1050.6 881.6 L1056.2 884.6 Z" fill="#f5c61b"/>
<path d="M1056 891.6 l8.4-1.4 l0.4 1.6 l-8 2.2z" fill="#d9482e"/>
<circle cx="1063" cy="868.6" r="3.1" fill="#f1c3a2"/>
<path d="M1059.6 868 Q1059.2 863.2 1063.4 863.2 Q1067.2 863.6 1066.6 867.6 Q1064.4 865.6 1059.6 868 Z" fill="#1c2b66"/>
<path d="M1049.6 873.6 Q1053 872 1056.4 873.6 L1057.4 886 L1049.2 885.6 Q1048.4 878 1049.6 873.6 Z" fill="#1b80d0"/>
<circle cx="1051.8" cy="869.6" r="2.6" fill="#f3c4a3"/>
<path d="M1048.6 874.6 Q1046.6 867.4 1050.6 865.8 Q1055 865 1055.2 868.6 Q1052 867.4 1050.6 869.6 Q1050.6 873 1048.6 874.6 Z" fill="#d9452b"/>
<path d="M1044.4 911 L1053 911 L1053 929.4 L1050 929.4 L1048.8 917 L1047.4 929.4 L1044.4 929.4 Z" fill="#1c54b7"/>
<path d="M1043.6 931.2 q0.4-2 4-2 v2 z M1049.2 931.2 q0.4-2 4.2-2 v2 z" fill="#14306c"/>
<path d="M1041 902 Q1040.4 897.6 1044.8 897.6 L1046 908.6 Q1042 909 1041 902 Z" fill="#2a62b8"/>
<path d="M1045 898 Q1049 897 1052.6 898.2 Q1054 900 1053.8 912 L1044.2 912 Z" fill="#f5c61b"/>
<path d="M1045.4 898.4 q3 3 1.6 9" stroke="#4c8c4a" stroke-width="1" fill="none"/>
<circle cx="1048.8" cy="893.4" r="2.8" fill="#f1c3a2"/>
<path d="M1045.8 893.4 Q1045.4 889 1049.2 889 Q1052.6 889.6 1052 893 Q1049.6 891.4 1045.8 893.4 Z" fill="#1c2b66"/>
</g>
<g id="il6">
<rect x="1034" y="970" width="64" height="76" fill="#fff"/>
<path d="M1046.6 973.6 Q1051.6 971.4 1053.4 976.6 Q1054 983 1056.6 987.6 Q1055.6 990.4 1053 988.6 L1049 984 L1043.6 986.6 Q1040.6 986 1041.6 982.6 Q1043.6 976 1046.6 973.6 Z" fill="#163d7e"/>
<path d="M1043 1000 L1053.6 1000 Q1054.6 1012 1051.8 1022 L1050.6 1041.4 L1047.6 1041.4 L1046.8 1018 L1039.6 1039.6 L1036.6 1038.6 Q1040.6 1016 1043 1000 Z" fill="#e8bb1b"/>
<path d="M1035.4 1040.4 l2-2.6 l2.6 1.2 l0.8 5 z M1047.2 1041 l3.6 0 l3.4 2.6 l-7 0.2 z" fill="#1b2f66"/>
<path d="M1043.2 986.6 Q1047 985 1050.6 986.4 Q1054.6 990 1057.6 998.6 L1066 1000.6 L1065.8 1002 L1055.6 1001.2 L1053.6 997.6 L1053.8 1000.8 L1042.8 1000.8 Q1040.6 992 1043.2 986.6 Z" fill="#fbe4ca"/>
<path d="M1043 1000 h10.8 v1.2 h-10.8z" fill="#3a2a20"/>
<circle cx="1049.4" cy="980.2" r="3" fill="#f4c6a4"/>
<path d="M1046.4 981 Q1045.6 975.4 1049.6 975.2 Q1052.4 975.6 1052.6 978 Q1049.6 977 1048.4 979 Q1048.2 981.6 1046.4 981 Z" fill="#163d7e"/>
<path d="M1059 1002.4 L1066 1002.4 L1067 1017.6 L1063 1017.6 Z" fill="#1c55b7"/>
<path d="M1063 1017.4 H1082.8 V1019.2 H1063 Z" fill="#1b2f66"/>
<path d="M1064.6 1024 H1082 V1025.4 H1064.6 Z" fill="#1c55b7"/>
<path d="M1063.6 1017.6 V1036 M1072.6 1025 L1080.8 1042.4 M1081.4 1019 V1039" stroke="#1b2f66" stroke-width="1" fill="none"/>
<circle cx="1063.6" cy="1035.9" r="8.5" fill="#f2f4fa" stroke="#1b2f66" stroke-width="1"/>
<path d="M1063.6 1027.6 V1044.2 M1055.3 1035.9 H1071.9 M1057.7 1030 L1069.5 1041.8 M1069.5 1030 L1057.7 1041.8" stroke="#c9cfe2" stroke-width="0.5"/>
<circle cx="1080.9" cy="1043.4" r="1.5" fill="#fff" stroke="#1b2f66" stroke-width="0.9"/>
<circle cx="1087.4" cy="1043.6" r="1.2" fill="none" stroke="#c9cfe2" stroke-width="0.7"/>
<path d="M1067.6 1019.4 H1082.6 V1023 H1067.6 Z" fill="#e8bb1b"/>
<path d="M1081.6 1017.8 Q1086.6 1016.6 1089 1019.6 L1089.4 1038.4 L1085.4 1038.4 L1084.4 1022.8 L1081.6 1022.8 Z" fill="#e8bb1b"/>
<path d="M1085 1040 l0.4-2 l4 0 l4.6 1.6 l-0.2 0.8 z" fill="#1c4aa6"/>
<path d="M1069 1000.6 Q1073 999.4 1076.4 1001 Q1078.6 1006 1078.6 1012 L1083 1016.4 L1082.4 1017.6 L1067.6 1017.6 Q1066.6 1006 1069 1000.6 Z" fill="#fbdcc0"/>
<circle cx="1074.6" cy="995.6" r="2.9" fill="#f4c6a4"/>
<path d="M1066.6 1000.6 Q1067.6 992 1072.6 990.4 Q1077.8 990 1077.8 994 Q1074.4 992.8 1073 995.4 Q1072.4 999.6 1069.4 1001.4 Z" fill="#163d7e"/><path d="M1076 997.4 q2.4 0.4 2 2.6 q-1.8 0.4 -2.8-1z" fill="#163d7e"/>
</g>
</svg></body></html>
